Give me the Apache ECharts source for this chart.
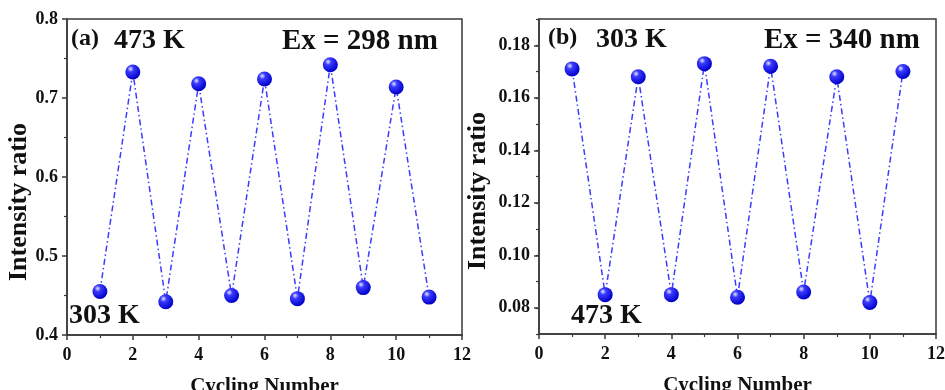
<!DOCTYPE html>
<html><head><meta charset="utf-8">
<script src="https://cdn.jsdelivr.net/npm/echarts@6/dist/echarts.min.js"></script>
<style>html,body{margin:0;padding:0;background:#fff}#c{width:945px;height:390px}</style>
</head><body><div id="c"></div>
<script>
const cycles = [1,2,3,4,5,6,7,8,9,10,11];
const ratioA = [0.455,0.733,0.442,0.718,0.450,0.724,0.446,0.742,0.460,0.714,0.448];
const ratioB = [0.171,0.085,0.168,0.085,0.173,0.084,0.172,0.086,0.168,0.082,0.170];
const yTicksB = [0.08,0.10,0.12,0.14,0.16,0.18];

const FONT = '"Liberation Serif","Times New Roman",serif';
const axisCol = '#3a3a3a';
const ball = {
  type:'radial', x:0.35, y:0.3, r:0.7,
  colorStops:[{offset:0,color:'#e8e8ff'},{offset:0.3,color:'#3a3aff'},{offset:1,color:'#0000c8'}]
};
const lab = {fontFamily:FONT,fontWeight:'bold',fontSize:18,color:'#111'};
function xAx(gi){
  return {gridIndex:gi,type:'value',min:0,max:12,interval:2,
    name:'Cycling Number',nameLocation:'middle',nameGap:41,
    nameTextStyle:{fontFamily:FONT,fontWeight:'bold',fontSize:21,color:'#111'},
    axisLine:{show:true,lineStyle:{color:axisCol,width:1.5}},
    axisTick:{show:true,length:5,lineStyle:{color:axisCol,width:1.5}},
    minorTick:{show:true,splitNumber:2,length:3,lineStyle:{color:axisCol,width:1.2}},
    splitLine:{show:false},
    axisLabel:Object.assign({margin:11},lab)};
}
const option = {
  animation:false,
  grid:[
    {left:67,right:483,top:19,bottom:55,show:true,borderColor:axisCol,borderWidth:1.5,outerBoundsMode:'none',containLabel:false},
    {left:539,right:9,top:19,bottom:56,show:true,borderColor:axisCol,borderWidth:1.5,outerBoundsMode:'none',containLabel:false}
  ],
  xAxis:[xAx(0),xAx(1)],
  yAxis:[
    {gridIndex:0,type:'value',min:0.4,max:0.8,interval:0.1,position:'left',
      axisLine:{show:true,lineStyle:{color:axisCol,width:1.5}},
      axisTick:{show:true,length:5,lineStyle:{color:axisCol,width:1.5}},
      minorTick:{show:true,splitNumber:2,length:3,lineStyle:{color:axisCol,width:1.2}},
      splitLine:{show:false},
      axisLabel:Object.assign({margin:9,formatter:v=>v.toFixed(1)},lab)},
    {gridIndex:1,type:'value',min:0.07,max:0.19,position:'left',
      axisLine:{show:true,lineStyle:{color:axisCol,width:1.5}},
      axisTick:{show:true,length:5,customValues:yTicksB,lineStyle:{color:axisCol,width:1.5}},
      splitLine:{show:false},
      axisLabel:Object.assign({margin:9,customValues:yTicksB,formatter:v=>v.toFixed(2)},lab)},
    {gridIndex:1,type:'value',min:0.07,max:0.19,interval:0.01,position:'left',offset:0,
      axisLine:{show:false},
      axisTick:{show:true,length:3,lineStyle:{color:axisCol,width:1.2}},
      axisLabel:{show:false},splitLine:{show:false}}
  ],
  series:[
    {type:'line',xAxisIndex:0,yAxisIndex:0,data:cycles.map((c,i)=>[c,ratioA[i]]),
      symbol:'circle',symbolSize:15,itemStyle:{color:ball},
      lineStyle:{color:'#3b3bff',width:1.5,type:[6,3,1.5,3]}},
    {type:'line',xAxisIndex:1,yAxisIndex:1,data:cycles.map((c,i)=>[c,ratioB[i]]),
      symbol:'circle',symbolSize:15,itemStyle:{color:ball},
      lineStyle:{color:'#3b3bff',width:1.5,type:[6,3,1.5,3]}}
  ],
  graphic:[
    {type:'text',x:19,y:202,rotation:Math.PI/2,style:{text:'Intensity ratio',font:'bold 26px '+FONT,fill:'#111',align:'center',verticalAlign:'middle'}},
    {type:'text',x:478,y:191,rotation:Math.PI/2,style:{text:'Intensity ratio',font:'bold 26px '+FONT,fill:'#111',align:'center',verticalAlign:'middle'}},
    {type:'text',left:71,top:27,style:{text:'(a)',font:'bold 24px '+FONT,fill:'#111'}},
    {type:'text',left:114,top:27,style:{text:'473 K',font:'bold 28px '+FONT,fill:'#111'}},
    {type:'text',left:282,top:27,style:{text:'Ex = 298 nm',font:'bold 29px '+FONT,fill:'#111'}},
    {type:'text',left:69,top:302,style:{text:'303 K',font:'bold 28px '+FONT,fill:'#111'}},
    {type:'text',left:548,top:26,style:{text:'(b)',font:'bold 24px '+FONT,fill:'#111'}},
    {type:'text',left:596,top:26,style:{text:'303 K',font:'bold 28px '+FONT,fill:'#111'}},
    {type:'text',left:764,top:26,style:{text:'Ex = 340 nm',font:'bold 29px '+FONT,fill:'#111'}},
    {type:'text',left:571,top:302,style:{text:'473 K',font:'bold 28px '+FONT,fill:'#111'}}
  ]
};
echarts.init(document.getElementById('c')).setOption(option);
</script></body></html>
